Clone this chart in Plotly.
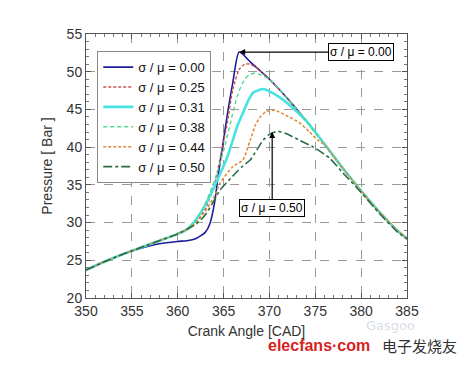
import plotly.graph_objects as go

# ---- data ----
labels = ["σ / μ = 0.00", "σ / μ = 0.25", "σ / μ = 0.31", "σ / μ = 0.38", "σ / μ = 0.44", "σ / μ = 0.50"]

common_x = [350, 352, 354, 356, 358, 360, 361]
common_y = [23.7, 24.8, 25.8, 26.7, 27.6, 28.5, 29.1]

env_x = [372, 374, 376, 378, 380, 382, 384, 385]
env_y = [46.4, 43.5, 40.4, 37.2, 34.2, 31.4, 28.9, 27.9]

x_000 = [350, 352, 354, 356, 358, 360, 361, 362, 363, 363.5, 364, 364.5, 365, 365.5, 366, 366.7, 368, 370] + env_x
y_000 = [23.7, 24.8, 25.8, 26.6, 27.2, 27.5, 27.6, 27.9, 28.7, 29.8, 32.5, 37.0, 41.0, 45.0, 48.5, 52.6, 51.2, 49.0] + env_y

x_025 = common_x + [362, 363, 364, 364.8, 365.4, 366, 366.7, 367.3, 367.9, 368.5, 369, 370] + env_x
y_025 = common_y + [30.1, 31.8, 35.0, 39.6, 43.2, 47.6, 50.3, 51.0, 51.0, 50.6, 50.1, 49.0] + env_y

x_031 = common_x + [362, 363, 364, 365, 365.5, 366, 366.5, 367.1, 367.7, 368.3, 369.3, 370, 371, 372, 373, 374] + env_x[2:]
y_031 = common_y + [30.4, 32.3, 34.8, 37.5, 39.0, 40.9, 42.8, 44.5, 46.2, 47.3, 47.7, 47.4, 46.7, 45.8, 44.7, 43.5] + env_y[2:]

x_038 = common_x + [362, 363, 364, 365, 365.8, 366.5, 367.2, 367.8, 368.4, 369, 370] + env_x
y_038 = common_y + [30.3, 32.5, 35.5, 39.5, 43.5, 46.8, 48.8, 49.6, 49.8, 49.6, 49.0] + env_y

x_044 = common_x + [362, 363, 364, 364.6, 366, 367.1, 367.9, 368.5, 369, 369.6, 370.3, 371, 372, 373.3, 374.3, 375.3, 376] + env_x[3:]
y_044 = common_y + [30.0, 31.5, 33.5, 35.2, 37.4, 38.3, 40.9, 43.0, 44.0, 44.7, 44.9, 44.7, 44.1, 43.2, 42.1, 40.9, 40.3] + env_y[3:]

x_050 = common_x + [362, 363, 364, 364.6, 365.5, 366.5, 367.1, 367.9, 369.3, 370.0, 370.9, 371.8, 373.3, 374.8, 376.6, 378, 380, 382, 384, 385]
y_050 = common_y + [29.8, 31.0, 33.0, 34.3, 35.5, 36.8, 37.5, 38.3, 40.9, 41.7, 42.1, 41.8, 40.9, 40.0, 38.5, 36.6, 34.0, 31.2, 28.7, 27.8]

series_x = [x_000, x_025, x_031, x_038, x_044, x_050]
series_y = [y_000, y_025, y_031, y_038, y_044, y_050]

colors = ["#1c1c9c", "#cc5050", "#48e2e2", "#50d890", "#e08a3a", "#2a6a44"]
dashes = ["solid", "3px,2px", "solid", "4px,3px", "3px,2px", "dashdot"]
widths = [1.6, 1.4, 2.6, 1.4, 1.6, 1.6]

fig = go.Figure()
for xs, ys, lab, c, d, w in zip(series_x, series_y, labels, colors, dashes, widths):
    fig.add_trace(go.Scatter(x=xs, y=ys, mode="lines", name=lab,
                             line=dict(color=c, dash=d, width=w, shape="spline", smoothing=0.6)))

axis_common = dict(
    showline=True, linecolor="#555", linewidth=1, mirror="ticks",
    showgrid=True, gridcolor="#999", griddash="dash", gridwidth=1,
    ticks="inside", ticklen=5, tickcolor="#555", zeroline=False,
    tickfont=dict(family="Liberation Sans, Arial", size=14, color="#333"),
    minor=dict(ticks="inside", ticklen=3, tickcolor="#777", dtick=1, showgrid=False),
)

fig.update_xaxes(range=[350, 385], dtick=5, tick0=350,
                 title=dict(text="Crank Angle [CAD]", font=dict(family="Liberation Sans, Arial", size=14, color="#333"), standoff=8),
                 **axis_common)
fig.update_yaxes(range=[20, 55], dtick=5, tick0=20,
                 title=dict(text="Pressure [ Bar ]", font=dict(family="Liberation Sans, Arial", size=14, color="#333"), standoff=10),
                 **axis_common)

fig.add_annotation(x=366.7, y=52.6, ax=380.0, ay=52.6, axref="x", ayref="y",
                   text="σ / μ = 0.00", showarrow=True, arrowhead=2, arrowsize=1, arrowwidth=1.2,
                   arrowcolor="black", bordercolor="black", borderwidth=1, borderpad=1, bgcolor="white",
                   font=dict(family="Liberation Sans, Arial", size=12, color="black"))
fig.add_annotation(x=370.3, y=42.0, ax=370.3, ay=31.9, axref="x", ayref="y",
                   text="σ / μ = 0.50", showarrow=True, arrowhead=2, arrowsize=1, arrowwidth=1.2,
                   arrowcolor="black", bordercolor="black", borderwidth=1, borderpad=1, bgcolor="white",
                   font=dict(family="Liberation Sans, Arial", size=12, color="black"))

# watermark texts
fig.add_annotation(xref="paper", yref="paper", x=0.95, y=-0.105, xanchor="center", yanchor="middle",
                   text="Gasgoo", showarrow=False,
                   font=dict(family="DejaVu Sans", size=13, color="rgba(150,160,190,0.40)"))
fig.add_annotation(xref="paper", yref="paper", x=0.56, y=-0.18, xanchor="left", yanchor="middle",
                   text="<b>elecfans·com</b>", showarrow=False,
                   font=dict(family="Liberation Sans, Arial", size=16, color="#d81e1e"))
fig.add_annotation(xref="paper", yref="paper", x=0.915, y=-0.18, xanchor="left", yanchor="middle",
                   text="电子发烧友", showarrow=False,
                   font=dict(family="Noto Sans CJK SC", size=15, color="#333"))

# the page body adds an 8px offset; margins compensate so the plot area sits at the reference spot
fig.update_layout(
    width=472, height=365,
    margin=dict(l=78, r=73, t=26, b=75),
    paper_bgcolor="white", plot_bgcolor="white",
    showlegend=True,
    legend=dict(x=0.035, y=0.935, xanchor="left", yanchor="top",
                bgcolor="white", bordercolor="#888", borderwidth=1,
                font=dict(family="Liberation Sans, Arial", size=13, color="#111"),
                itemwidth=30, tracegroupgap=0),
)

fig.write_html("out.html")
